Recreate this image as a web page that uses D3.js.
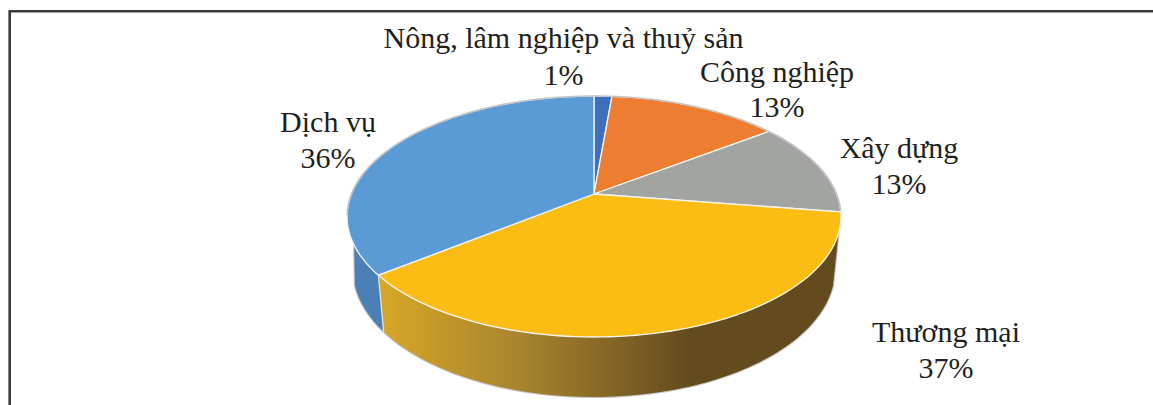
<!DOCTYPE html>
<html>
<head>
<meta charset="utf-8">
<script src="https://cdn.jsdelivr.net/npm/d3@7/dist/d3.min.js"></script>
<style>
html,body{margin:0;padding:0;background:#fff;overflow:hidden}
svg{display:block}
text{font-family:"Liberation Serif",serif;fill:#231f20}
</style>
</head>
<body>
<svg id="chart" width="1153" height="405"></svg>
<script>
const categories = ["Nông, lâm nghiệp và thuỷ sản", "Công nghiệp", "Xây dựng", "Thương mại", "Dịch vụ"];
const shares = [1.4, 13.4, 12.6, 37, 35.6];
const colors = ["#3f6fb8", "#ed7d31", "#a2a4a1", "#fbbd13", "#5b9bd5"];
const labelAnchors = [[563.5, 48, 85], [777, 82, 117], [899, 158, 194], [946, 342, 378], [328, 132, 168]];

const svg = d3.select("#chart");
const W = 1153, H = 405;
const FONT = 30;

// frame
svg.append("path").attr("d", `M${W},11.3H9.7V${H}`).attr("fill", "none")
  .attr("stroke", "#3a3a3c").attr("stroke-width", 2.6);

// perspective projection of the pie's unit circle
const cx = 594, apexY = 194, R = 242.6, Rs = 116.3, k = 0.1867;
function topPt(a) {
  const x = Math.sin(a), y = -Math.cos(a), w = 1 - k * y;
  return [cx + R * x / w, apexY + Rs * y / w];
}
const topMidY = 216.5, baseMidY = 269.5, baseSx = 241 / 247, baseSy = 127.5 / 120.5;
function basePt(a) {
  const [X, Y] = topPt(a);
  return [cx + (X - cx) * baseSx, baseMidY + (Y - topMidY) * baseSy];
}
const pie = d3.pie().sort(null).startAngle(0).endAngle(2 * Math.PI);
const arcs = pie(shares);
const line = d3.line();
const deg = Math.PI / 180;
const samples = (a0, a1) => d3.range(0, 81).map(i => a0 + (a1 - a0) * i / 80);

// gradient on the front wall
const g = svg.append("defs").append("linearGradient").attr("id", "wallGold")
  .attr("gradientUnits", "userSpaceOnUse").attr("x1", 380).attr("x2", 690).attr("y1", 0).attr("y2", 0);
g.append("stop").attr("offset", 0).attr("stop-color", "#d6a726");
g.append("stop").attr("offset", 0.45).attr("stop-color", "#a8842e");
g.append("stop").attr("offset", 1).attr("stop-color", "#644b1e");

// the wall's side edges run from the rim to where they touch the base curve
const tangentR = 107.7 * deg, tangentL = 252.3 * deg, rimL = 272 * deg;
const seam = arcs[3].endAngle;
const goldWall = samples(arcs[3].startAngle, seam).map(topPt)
  .concat(samples(seam, tangentR).map(basePt));
const blueWall = samples(seam, rimL).map(topPt)
  .concat(samples(tangentL, seam).map(basePt));
const outline = [topPt(arcs[3].startAngle)].concat(samples(tangentR, tangentL).map(basePt), [topPt(rimL)]);

svg.append("path").attr("d", line(outline))
  .attr("fill", "none").attr("stroke", "#c4c4c4").attr("stroke-width", 2.2);
svg.append("path").attr("d", line(goldWall) + "Z").attr("fill", "url(#wallGold)");
svg.append("path").attr("d", line(blueWall) + "Z").attr("fill", "#4a80b6");
svg.append("path").attr("d", line([topPt(seam), basePt(seam)]))
  .attr("stroke", "#e6e6e6").attr("stroke-width", 1.2).attr("fill", "none");

// top faces
svg.append("g").selectAll("path").data(arcs).join("path")
  .attr("d", d => line([[cx, apexY]].concat(samples(d.startAngle, d.endAngle).map(topPt))) + "Z")
  .attr("fill", (d, i) => colors[i])
  .attr("stroke", "#f4f4f4").attr("stroke-width", 1.3).attr("stroke-linejoin", "round");
// rim
svg.append("path")
  .attr("d", line(samples(-100 * deg, 98 * deg).map(topPt)))
  .attr("fill", "none").attr("stroke", "#c4c4c4").attr("stroke-width", 1.5);

// labels
const pct = d3.format(".0f");
const labels = svg.append("g").attr("text-anchor", "middle").attr("font-size", FONT);
categories.forEach((c, i) => {
  const [x, y1, y2] = labelAnchors[i];
  labels.append("text").attr("x", x).attr("y", y1).text(c);
  labels.append("text").attr("x", x).attr("y", y2).text(pct(shares[i]) + "%");
});
</script>
</body>
</html>
